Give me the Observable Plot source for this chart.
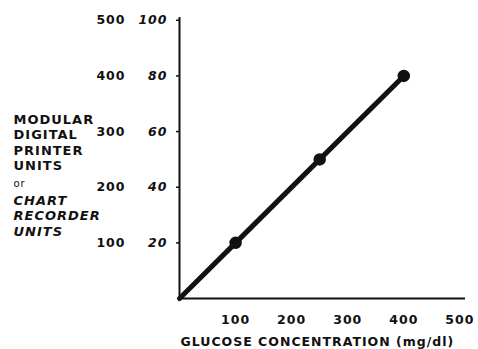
<!DOCTYPE html>
<html>
<head>
<meta charset="utf-8">
<script src="https://cdn.jsdelivr.net/npm/d3@7"></script>
<script src="https://cdn.jsdelivr.net/npm/@observablehq/plot@0.6"></script>
<style>
  html, body { margin: 0; padding: 0; background: #fff; }
  svg text { letter-spacing: 1px; }
</style>
</head>
<body>
<div id="chart"></div>
<script>
// Data
const glucose = [0, 100, 250, 400];          // mg/dl
const recorderUnits = [0, 20, 50, 80];       // chart recorder units
const recorderTicks = [20, 40, 60, 80, 100];
const printerTickLabels = ["100", "200", "300", "400", "500"];
const glucoseTicks = [100, 200, 300, 400, 500];
const printerLabel = ["MODULAR", "DIGITAL", "PRINTER", "UNITS"];
const recorderLabel = ["CHART", "RECORDER", "UNITS"];
const orLabel = "or";
const xTitle = "GLUCOSE CONCENTRATION (mg/dl)";

const data = glucose.map((g, i) => ({x: g, y: recorderUnits[i]}));
const pts = data.filter(d => d.x > 0);

const plot = Plot.plot({
  width: 478,
  height: 349,
  marginLeft: 179,
  marginRight: 13,
  marginTop: 17,
  marginBottom: 51,
  x: {domain: [0, 510], axis: null},
  y: {domain: [0, 101], axis: null},
  style: {fontFamily: "'DejaVu Sans', sans-serif", fontSize: "12.5px", fontWeight: "bold", color: "#111", background: "#fff"},
  marks: [
    Plot.axisY(recorderTicks, {tickSize: 3, tickPadding: 9, fontStyle: "italic", strokeWidth: 1.5, label: null, ariaLabel: "ry"}),
    Plot.axisY(recorderTicks, {tickSize: 0, tickPadding: 54, label: null, tickFormat: d => printerTickLabels[recorderTicks.indexOf(d)], ariaLabel: "py"}),
    Plot.axisX(glucoseTicks, {tickSize: 0, tickPadding: 17, label: null, ariaLabel: "gx"}),
    Plot.ruleX([0], {strokeWidth: 2, stroke: "#111"}),
    Plot.ruleY([0], {strokeWidth: 2, stroke: "#111"}),
    Plot.line(data, {x: "x", y: "y", stroke: "#111", strokeWidth: 5}),
    Plot.dot(pts, {x: "x", y: "y", r: 5.5, fill: "#111", stroke: "#111"}),
    Plot.text([printerLabel.join("\n")], {frameAnchor: "top-left", textAnchor: "start", lineAnchor: "top", dx: -166, dy: 95, lineHeight: 1.2, fontSize: 13, fontWeight: "bold", ariaLabel: "plabel"}),
    Plot.text([orLabel], {frameAnchor: "top-left", textAnchor: "start", lineAnchor: "middle", dx: -166, dy: 166, fontSize: 10, fontWeight: "normal", ariaLabel: "orlabel"}),
    Plot.text([recorderLabel.join("\n")], {frameAnchor: "top-left", textAnchor: "start", lineAnchor: "top", dx: -166, dy: 176, lineHeight: 1.2, fontSize: 13, fontWeight: "bold", fontStyle: "italic", ariaLabel: "rlabel"}),
    Plot.text([xTitle], {frameAnchor: "bottom-left", textAnchor: "start", lineAnchor: "middle", dx: 1, dy: 43, fontSize: 12.5, fontWeight: "bold", ariaLabel: "xtitle"})
  ]
});

document.getElementById("chart").appendChild(plot);
const svg = d3.select(plot);
svg.selectAll('g[aria-label="plabel"] text, g[aria-label="rlabel"] text').style("letter-spacing", "2.2px");
svg.selectAll('g[aria-label="xtitle"] text').style("letter-spacing", "2.75px");
svg.selectAll('g[aria-label="orlabel"] text').style("letter-spacing", "0px");
</script>
</body>
</html>
